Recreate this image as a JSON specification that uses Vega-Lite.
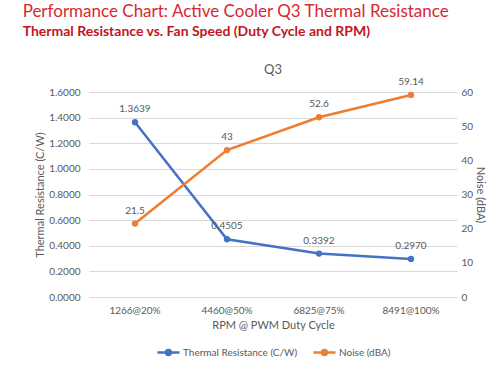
{
  "$schema": "https://vega.github.io/schema/vega-lite/v6.json",
  "padding": {"left": 22, "top": 2, "right": 10, "bottom": 5},
  "title": {
    "text": "Performance Chart: Active Cooler Q3 Thermal Resistance",
    "subtitle": "Thermal Resistance vs. Fan Speed (Duty Cycle and RPM)",
    "anchor": "start",
    "frame": "bounds",
    "dx": -12,
    "color": "#d9272e",
    "subtitleColor": "#c0161e",
    "font": "Lato",
    "subtitleFont": "Lato",
    "fontSize": 17,
    "fontWeight": "normal",
    "subtitleFontSize": 14,
    "subtitleFontWeight": "bold",
    "subtitlePadding": 4,
    "offset": 24
  },
  "data": {
    "values": [
      {"rpm": "1266@20%", "tr": 1.3639, "noise": 21.5},
      {"rpm": "4460@50%", "tr": 0.4505, "noise": 43},
      {"rpm": "6825@75%", "tr": 0.3392, "noise": 52.6},
      {"rpm": "8491@100%", "tr": 0.2970, "noise": 59.14}
    ]
  },
  "vconcat": [
    {
      "title": {"text": "Q3", "fontSize": 13, "color": "#595959", "font": "Lato", "fontWeight": "normal", "offset": 0},
      "width": 368,
      "height": 205,
      "encoding": {
        "x": {
          "field": "rpm", "type": "nominal", "sort": null,
          "scale": {"type": "band", "paddingInner": 0, "paddingOuter": 0},
          "axis": {"title": "RPM @ PWM Duty Cycle", "labelAngle": 0, "domain": false, "ticks": false, "labelPadding": 8, "titlePadding": 4, "grid": false}
        }
      },
      "layer": [
        {
          "encoding": {
            "y": {"field": "tr", "type": "quantitative", "scale": {"domain": [0, 1.6]},
              "axis": {"title": "Thermal Resistance (C/W)", "values": [0, 0.2, 0.4, 0.6, 0.8, 1.0, 1.2, 1.4, 1.6], "labelOverlap": false, "format": ".4f", "grid": true, "domain": false, "ticks": false, "labelPadding": 9, "titlePadding": 3}}
          },
          "layer": [
            {
              "mark": {"type": "line", "strokeWidth": 2.5, "interpolate": "linear", "point": {"size": 40, "filled": true}},
              "encoding": {
                "color": {"datum": "Thermal Resistance (C/W)", "type": "nominal",
                  "scale": {"domain": ["Thermal Resistance (C/W)", "Noise (dBA)"], "range": ["#4472C4", "#ED7D31"]},
                  "legend": {"title": null, "orient": "bottom", "direction": "horizontal", "symbolType": "M-1,0L1,0M-0.22,0a0.22,0.22 0 1,0 0.44,0a0.22,0.22 0 1,0 -0.44,0", "symbolStrokeWidth": 2.5, "symbolSize": 484, "columnPadding": 10, "labelOffset": 2, "offset": 10}}
              }
            },
            {
              "mark": {"type": "text", "dy": -13, "fontSize": 10, "color": "#595959", "font": "Lato"},
              "encoding": {
                "text": {"field": "tr", "type": "quantitative", "format": ".4f"}
              }
            }
          ]
        },
        {
          "encoding": {
            "y": {"field": "noise", "type": "quantitative", "scale": {"domain": [0, 60]},
              "axis": {"title": "Noise (dBA)", "orient": "right", "values": [0, 10, 20, 30, 40, 50, 60], "labelOverlap": false, "grid": false, "domain": false, "ticks": false, "labelPadding": 4, "titlePadding": 2}}
          },
          "layer": [
            {
              "mark": {"type": "line", "strokeWidth": 2.5, "interpolate": "linear", "point": {"size": 40, "filled": true}},
              "encoding": {
                "color": {"datum": "Noise (dBA)", "type": "nominal"}
              }
            },
            {
              "mark": {"type": "text", "dy": -13, "fontSize": 10, "color": "#595959", "font": "Lato"},
              "encoding": {
                "text": {"field": "noise", "type": "quantitative"}
              }
            }
          ]
        }
      ],
      "resolve": {"scale": {"y": "independent"}}
    }
  ],
  "config": {
    "view": {"stroke": null},
    "font": "Lato",
    "axis": {"labelColor": "#595959", "titleColor": "#595959", "labelFontSize": 10, "titleFontSize": 11, "titleFontWeight": "normal", "gridColor": "#d9d9d9", "labelFont": "Lato", "titleFont": "Lato"},
    "legend": {"labelColor": "#595959", "labelFontSize": 10, "labelFont": "Lato", "layout": {"bottom": {"anchor": "middle"}}}
  }
}
